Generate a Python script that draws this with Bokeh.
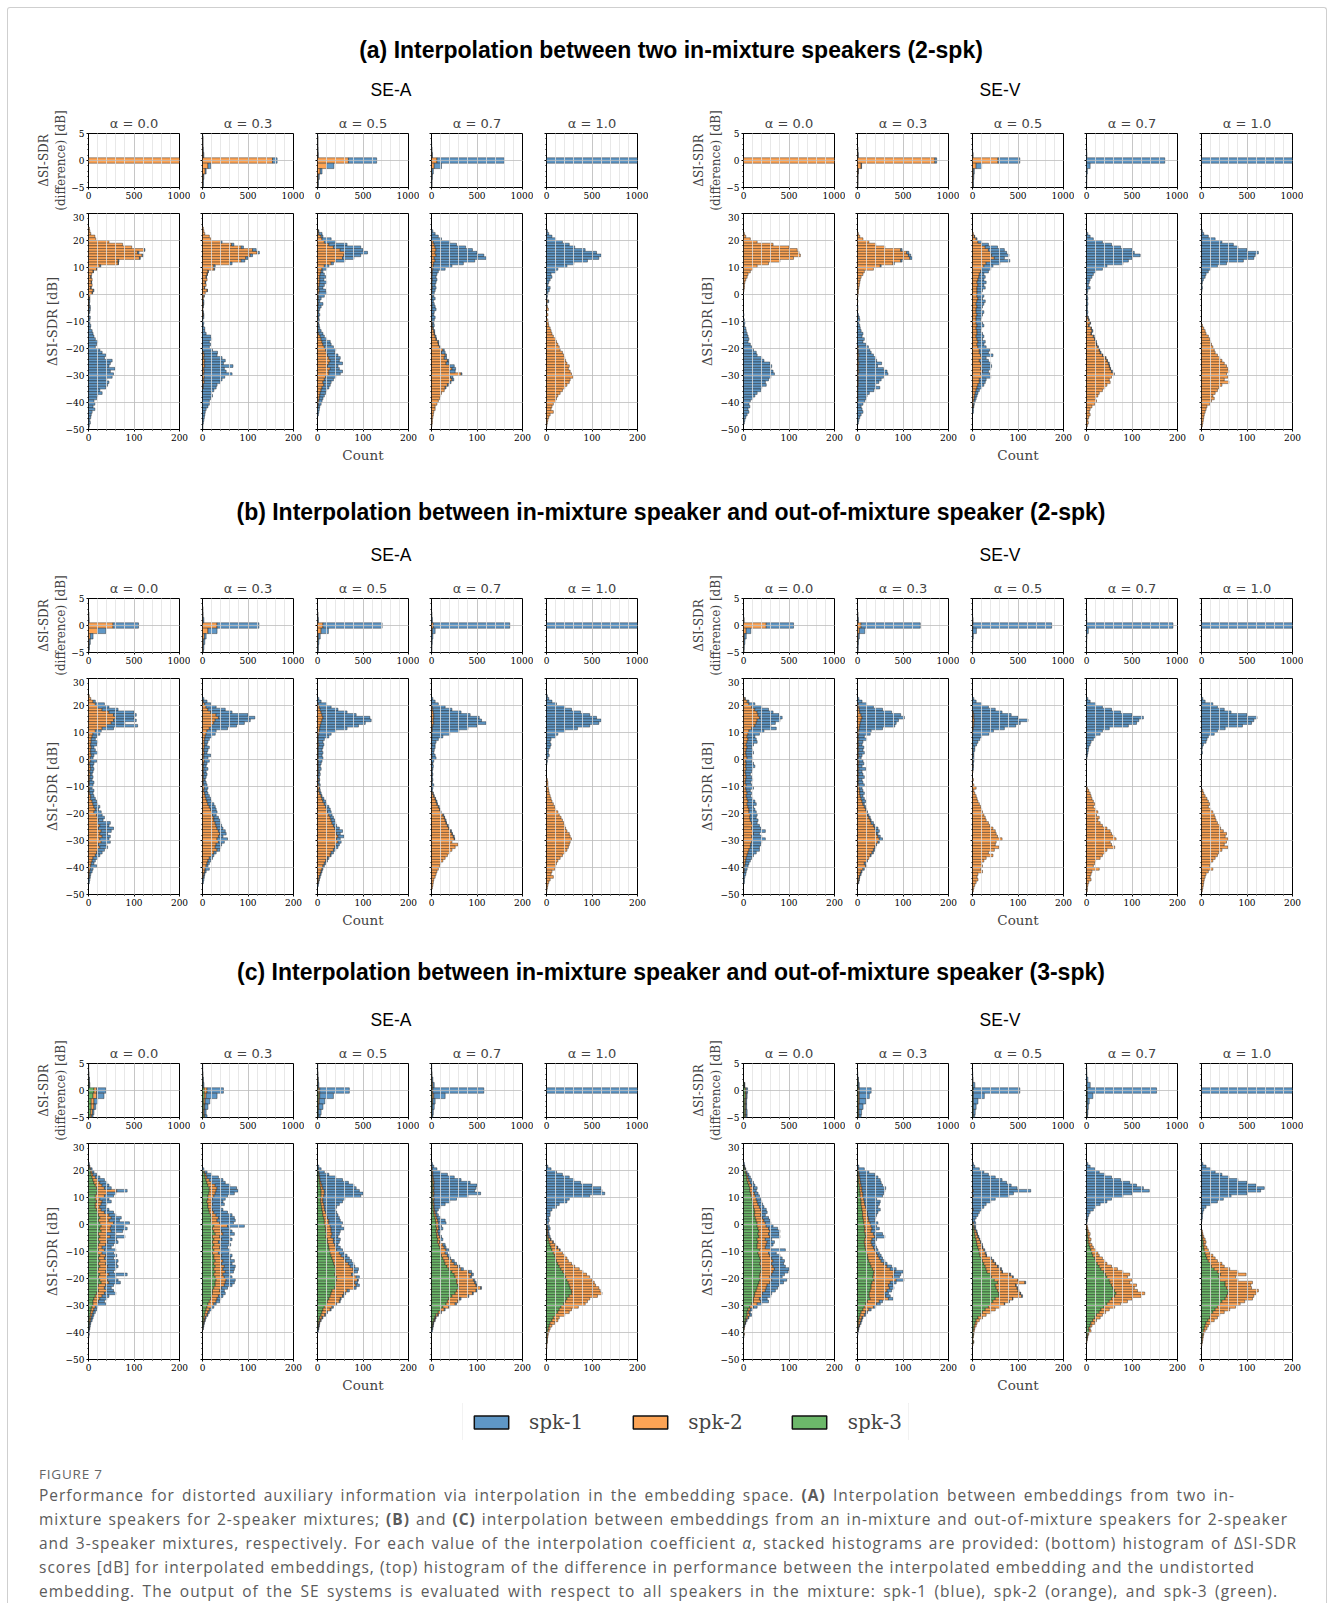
from bokeh.plotting import figure
from bokeh.layouts import row, column
from bokeh.models import (Div, Spacer, FixedTicker, CustomJSTickFormatter, Legend,
                          LegendItem, ColumnDataSource, Range1d)
from bokeh.embed import file_html
from bokeh.resources import INLINE

# ============================ DATA ============================
# bottom histograms: 1 dB bins, (first_bin_lower_edge, counts going downwards 1 dB each)
# top histograms: 1 dB bins centred on 5, 4, ..., -5
BOT_EDGES = list(range(29, -51, -1))
TOP_BINS = [5, 4, 3, 2, 1, 0, -1, -2, -3, -4, -5]
ALPHAS = ["0.0", "0.3", "0.5", "0.7", "1.0"]
SPEAKERS = ["spk-1", "spk-2", "spk-3"]
BOTTOM_YTICKS = [-50, -40, -30, -20, -10, 0, 10, 20, 30]
TOP_YTICKS = [-5, 0, 5]
BOTTOM_XTICKS = [0, 100, 200]
TOP_XTICKS = [0, 500, 1000]
SECTION_TITLES = {
    "a": "(a) Interpolation between two in-mixture speakers (2-spk)",
    "b": "(b) Interpolation between in-mixture speaker and out-of-mixture speaker (2-spk)",
    "c": "(c) Interpolation between in-mixture speaker and out-of-mixture speaker (3-spk)",
}
SYSTEMS = {"A": "SE-A", "V": "SE-V"}

# ---- (a) SE-A ----
aA0_spk2 = (24, [2,3,5,14,16, 45,75,95,122,108,118,112,65,65,25, 18,10,7,5,8,6,8,5,10,8, 3,2,1,1,2,1,1,0,1])
aA0_spk1 = (16, [2,3,3,2,2,1,2, 1,1,0,1,0,1,0,1,2,1, 0,1,2,1,2,3,2,1,3,3, 3,5,4,8,10,12,15,20,18,15, 25,30,38,35,52,48,45,58,48,55, 52,40,45,42,38,25,30,20,18,12, 14,10,14,8,6,5,3,4,2,1])
aA0_top_spk2 = [0,0,0,0,0,1000,0,0,0,0,0]
aA0_top_spk1 = [0,0,0,0,0,0,0,0,0,0,0]
aA1_spk2 = (24, [2,3,5,15,18, 40,64,85,110,120,105,95,85,60,25, 25,12,10,8,10,6,8,4,10,6, 3,2,1,2,1,1,1,2,1,0, 0,0,0,0,0,0,0,0,0,0, 0,3,4,3,5,4,5,3,4,3, 4,3,4,2,2])
aA1_spk1 = (19, [3,5,5,8,5,5,5,8,5,3, 2,1,1,1,0,1,0,1,1,0, 1,0,2,1,1,0,1,1,2,1, 3,2,5,5,8,18,20,15,18,15, 22,30,28,40,45,42,62,45,48,62, 45,40,35,30,28,25,20,22,18,15, 15,12,8,6,5,4,3,2,1,1])
aA1_top_spk2 = [0,3,3,5,10,770,60,30,10,5,4]
aA1_top_spk1 = [2,2,2,3,5,50,30,10,5,5,4]
aA2_spk2 = (23, [2,3,8,10, 15,25,35,50,60,58,55,40,30,15, 10,8,6,5,5,5,4,3,4,3, 2,2,1,2,1,1,1,1,1,1, 1,1,1,1,3,6,8,10,12,15, 18,20,22,25,28,25,22,28,25,25, 18,15,12,14,10,8,6,5,4,3, 2,1])
aA2_spk1 = (23, [1,7,4,20, 25,40,60,50,50,37,25,20,5,10, 10,4,9,13,9,15,11,9,14,17, 13,6,4,10,7,4,2,4,2,3, 2,3,4,7,9,9,12,18,18,20, 22,18,23,25,20,30,23,20,30,25, 22,20,18,14,15,12,12,10,8,7, 6,4,4,3,2])
aA2_top_spk2 = [0,2,2,3,5,340,100,30,10,5,4]
aA2_top_spk1 = [2,2,2,3,3,310,80,20,10,5,4]
aA3_spk2 = (19, [4,6,8,10,8,10,6,8,5,4, 3,2,2,1,2,1,1,2,1,1, 1,1,0,1,1,1,0,1,0,1, 2,2,3,5,6,8,10,14,15,18, 25,22,30,28,35,32,40,45,40,65, 42,45,40,35,30,28,22,20,18,15, 12,8,8,5,4,3,2,2,1,0])
aA3_spk1 = (23, [3,8,15,22, 36,49,67,80,92,105,114,87,65,41, 27,13,10,9,10,9,7,8,7,5, 4,7,4,5,7,9,6,4,8,5, 3,4,1,2,1,2,1,2,1,2, 3,8,3,5,3,6,10,8,12,2, 5,4,3,2,2])
aA3_top_spk2 = [0,0,0,2,5,60,30,5,3,2,2]
aA3_top_spk1 = [0,0,2,3,5,740,80,15,7,4,3]
aA4_spk1 = (23, [2,5,12,20, 35,50,62,85,110,120,115,90,60,45, 25,20,10,12,8,5,3,8,6,3, 2,1,2,1])
aA4_spk2 = (-3, [3,0,2,4,0,3,0,3, 4,5,8,10,12,15,20,22,25,28, 30,35,38,40,42,45,50,48,52,55, 58,52,50,45,40,35,30,25,22,20, 15,12,10,15,8,5,3,2,1])
aA4_top_spk1 = [0,0,0,0,0,1000,0,0,0,0,0]
aA4_top_spk2 = [0,0,0,0,0,0,0,0,0,0,0]

# ---- (a) SE-V ----
aV0_spk2 = (22, [2,5,15, 30,65,100,118,122,125,110,80,55,30, 20,15,10,8,5,3,2,2,1])
aV0_spk1 = (-8, [1,0,2, 3,2,5,6,8,10,12,10,15,18, 22,28,30,40,45,58,62,60,65,68, 60,55,48,50,40,38,30,25,20,15, 12,14,10,12,8,5,3,2])
aV0_top_spk2 = [0,0,0,0,0,1000,0,0,0,0,0]
aV0_top_spk1 = [0,0,0,0,0,0,0,0,0,0,0]
aV1_spk2 = (22, [2,5,12, 25,40,60,95,108,112,115,95,78,50, 35,15,12,8,6,5,4,3,2,2, 1,0,1,0,0,1,0,0,1,0, 0,0,0,0,0,0,0,0,0,2, 2,2,3,2,2,3,2,2,3,2, 2,2,2,2,1,1,1,1,1,1])
aV1_spk1 = (16, [3,5,5,5,3,3,2, 0,0,0,0,0,0,0,0,0,0, 0,0,0,0,1,0,0,2,3,5, 3,5,6,8,12,10,15,12,18,22, 25,28,32,38,40,50,42,55,62,65, 55,50,45,38,48,35,25,20,18,15, 12,8,10,12,8,5,3,2])
aV1_top_spk2 = [0,0,0,2,5,850,40,8,4,3,2]
aV1_top_spk1 = [0,0,0,1,3,20,5,2,1,2,1]
aV2_spk2 = (22, [2,4,8, 12,20,28,35,40,42,48,40,30,25, 20,18,15,14,12,10,12,10,10,10, 10,12,10,8,10,8,8,10,8,8, 8,10,8,10,10,8,10,12,10,12, 15,15,18,20,15,18,20,18,22,18, 20,15,15,12,10,8,6,5,4,3, 2,2])
aV2_spk1 = (22, [0,1,2, 8,15,27,35,35,38,22,42,30,20, 20,17,10,14,13,20,13,18,12,10, 15,10,18,17,12,12,17,12,12,10, 14,15,12,8,12,17,12,16,15,18, 23,20,27,10,20,22,22,22,13,20, 20,15,13,13,10,7,6,5,4,3, 2,1,2,2])
aV2_top_spk2 = [0,0,0,0,3,280,40,10,8,5,5]
aV2_top_spk1 = [0,0,0,1,2,240,60,10,7,5,5]
aV3_spk1 = (22, [3,8,15, 35,55,75,100,105,118,100,92,80,45, 35,20,15,12,8,6,4,8,3,2, 2,3,2,3,2,2,3,2,1,1, 1,1,1,2,1,2,1,2,1,1, 1,2,1,1,1,2,1,1,2,1])
aV3_spk2 = (-9, [3,5, 8,5,10,12,10,15,18,20,22,25, 28,30,35,42,45,48,50,52,55,60, 55,50,52,45,40,35,28,25,20,22, 18,12,8,6,8,5,3,4,2])
aV3_top_spk1 = [0,0,0,2,5,860,40,10,5,3,2]
aV3_top_spk2 = [0,0,0,0,0,0,0,0,0,0,0]
aV4_spk1 = (23, [2,5,15,30, 45,70,80,100,125,118,115,92,55,35, 20,15,10,8,4,2,1,2,1])
aV4_spk2 = (-12, [2,5,8,10,15,18,20,22,25, 28,30,35,40,45,50,55,58,60,55, 58,50,60,45,38,35,30,25,28,22, 18,12,10,8,6,5,4,3,2])
aV4_top_spk1 = [0,0,0,0,0,1000,0,0,0,0,0]
aV4_top_spk2 = [0,0,0,0,0,0,0,0,0,0,0]

# ---- (b) SE-A ----
bA0_spk2 = (23, [2,5,10,15, 20,30,45,55,60,55,50,40,30,15, 10,8,6,6,5,6,5,5,6,4, 5,3,4,5,3,4,3,3,2,2, 3,2,3,5,5,8,10,12,15,12, 18,20,22,20,25,22,28,25,30,25, 28,22,25,20,18,15,10,8,6,5, 4,3,2,2])
bA0_spk1 = (23, [0,0,5,20, 25,35,55,50,40,50,30,68,25,13, 15,10,9,14,13,6,10,15,6,6, 13,9,6,7,7,4,7,5,10,8, 5,10,7,7,10,10,10,13,7,16, 12,15,10,28,20,33,22,17,18,20, 20,18,17,15,12,10,10,7,6,13, 6,5,3,2,3,2])
bA0_top_spk2 = [0,0,0,2,3,270,100,20,8,4,2]
bA0_top_spk1 = [0,0,1,1,2,280,90,30,12,6,3]
bA1_spk2 = (21, [2,5, 8,12,18,30,35,28,25,20,15,10, 8,6,5,4,5,4,3,4,3,3, 4,3,2,3,2,3,2,3,2,3, 4,3,5,6,8,10,12,15,18,20, 22,25,25,28,30,32,35,38,35,32, 35,30,28,32,25,20,15,12,10,8, 6,5,3,2])
bA1_spk1 = (22, [3,8,13, 22,38,47,70,80,77,67,55,40,20, 20,14,10,8,5,11,9,6,15,9, 11,7,6,9,6,7,6,3,6,7, 8,7,7,9,10,10,13,13,12,12, 8,10,13,12,12,13,15,14,10,23, 13,12,12,6,5,5,7,6,5,4, 9,3,2,2,3,2])
bA1_top_spk2 = [0,0,2,3,5,160,60,20,10,6,4]
bA1_top_spk1 = [0,0,1,2,10,460,100,20,15,9,6]
bA2_spk2 = (20, [2, 4,6,8,10,12,10,8,6,5,4, 3,2,2,2,3,2,2,2,2,2, 2,2,2,2,2,2,1,3,1,3, 4,3,5,8,10,12,15,18,20,22, 25,28,30,32,35,38,40,42,45,42, 45,40,38,35,30,28,22,18,15,12, 10,8,6,4,3,2])
bA2_spk1 = (22, [3,8,18, 26,39,57,75,103,108,97,84,60,36, 27,23,13,10,11,10,8,10,8,10, 8,6,4,6,3,4,3,2,3,3, 1,3,3,2,4,6,5,7,8,8, 7,7,8,8,7,10,15,8,13,8, 7,8,7,5,5,2,3,4,3,3, 2,2,2,2,1,1,2])
bA2_top_spk2 = [0,0,0,2,3,60,40,10,5,3,2]
bA2_top_spk1 = [0,0,1,2,7,650,80,20,10,7,6]
bA3_spk1 = (22, [3,8,15, 28,42,61,80,100,106,115,97,78,58, 39,24,14,10,7,8,5,5,7,9, 5,2,4,2,2,2,2,2,2,4, 3,2,1,1,1,2,1,2,1,1, 2,1,2,1,2,1,2,1,2,1])
bA3_spk2 = (19, [2,3,4,5,5,4,5,3,2,2, 1,1,1,0,1,0,1,0,1,1, 0,1,0,1,0,1,0,1,0,1, 0,0,3,5,8,10,12,15,18,20, 25,28,30,32,35,38,42,45,48,50, 45,58,52,45,40,35,30,25,20,18, 15,12,10,8,5,4,3,2])
bA3_top_spk2 = [0,0,0,1,2,20,10,3,2,1,1]
bA3_top_spk1 = [0,0,1,3,8,840,30,12,6,4,2]
bA4_spk1 = (23, [2,5,12,22, 40,55,75,95,110,120,115,95,68,40, 25,20,10,8,10,8,5,4,6,3, 2,1])
bA4_spk2 = (-8, [2,3,3, 4,5,6,8,10,12,15,18,20,25, 28,32,35,38,40,42,45,50,52,55, 52,50,48,45,40,35,30,25,22,20, 18,12,10,15,8,5,3,2,1])
bA4_top_spk1 = [0,0,0,0,0,1000,0,0,0,0,0]
bA4_top_spk2 = [0,0,0,0,0,0,0,0,0,0,0]

# ---- (b) SE-V ----
bV0_spk2 = (22, [3,8,12, 18,25,30,32,35,30,28,25,18,12, 10,8,10,8,6,8,6,5,6,8, 5,6,5,6,4,5,6,5,4,6, 5,6,8,6,8,10,8,10,12,12, 15,14,15,18,20,18,20,22,18,20, 18,16,15,12,10,8,6,5,4,3, 2,2])
bV0_spk1 = (22, [1,4,13, 22,30,35,46,50,50,42,35,54,33, 25,17,18,22,16,10,14,17,12,12, 13,16,20,14,14,10,12,15,12,12, 17,9,10,10,12,15,20,12,13,16, 15,14,17,12,15,20,28,13,22,28, 22,22,20,23,18,14,12,10,8,7, 6,4,5,3,2,2])
bV0_top_spk2 = [0,0,0,0,3,250,30,10,5,3,2]
bV0_top_spk1 = [0,0,0,1,2,300,50,20,10,5,3]
bV1_spk2 = (20, [2, 3,4,5,8,10,8,6,5,4,3, 3,2,3,2,3,2,3,2,3,2, 3,3,2,3,2,3,2,3,2,3, 4,5,5,6,8,10,12,15,18,20, 22,25,28,30,35,38,40,42,45,48, 45,40,38,35,32,28,25,20,15,18, 12,8,6,4,3,2])
bV1_spk1 = (22, [3,10,18, 32,51,70,87,93,82,79,77,51,27, 25,13,17,10,7,12,9,13,7,6, 9,11,8,15,8,9,13,7,10,12, 6,7,10,6,7,8,3,3,2,2, 3,3,2,5,3,7,8,3,5,7, 3,2,2,3,3,2,0,2,3,2, 3,2,2,1,1,1])
bV1_top_spk2 = [0,0,0,2,3,40,20,8,4,2,2]
bV1_top_spk1 = [0,0,1,2,7,650,60,12,6,6,3]
bV2_spk1 = (22, [3,8,20, 35,50,63,82,97,118,102,92,68,45, 35,20,15,12,8,5,4,3,2,3, 2,2,1,2])
bV2_spk2 = (17, [2,3,3,4,3,3,2,1, 1,0,1,0,1,0,1,0,1,0, 1,0,1,0,1,0,0,2,0,3, 8,3,5,8,10,12,15,18,20,22, 25,28,30,35,38,45,50,52,55,65, 52,50,58,48,35,45,30,25,20,22, 18,22,12,10,12,8,5,3,2])
bV2_top_spk2 = [0,0,0,0,2,5,3,1,0,0,0]
bV2_top_spk1 = [0,0,0,1,3,865,40,8,3,2,1]
bV3_spk1 = (22, [3,8,20, 35,55,75,100,125,115,110,92,50,35, 30,20,15,10,8,5,4,3,2,1])
bV3_spk2 = (-11, [2,5,8,10,12,15,18,15,20,25, 22,28,25,30,35,45,52,55,60,65, 52,55,62,45,40,35,30,20,18,15, 28,12,10,8,10,5,3,2,2])
bV3_top_spk1 = [0,0,0,1,3,950,20,5,2,1,1]
bV3_top_spk2 = [0,0,0,0,0,0,0,0,0,0,0]
bV4_spk1 = (22, [3,8,25, 35,50,65,100,122,115,110,90,52,35, 28,15,12,10,4,2,1,2])
bV4_spk2 = (-12, [3,5,8,12,15,18,15,20,25, 28,30,32,35,40,42,48,55,52,58, 55,50,58,45,38,35,30,25,20,18, 25,15,10,8,6,5,4,3,2])
bV4_top_spk1 = [0,0,0,0,0,1000,0,0,0,0,0]
bV4_top_spk2 = [0,0,0,0,0,0,0,0,0,0,0]

# ---- (c) SE-A ----
cA0_spk3 = (22, [0,0,3, 5,6,8,10,12,15,18,20,18,15, 15,18,15,15,18,20,22,25,22,25, 28,25,28,22,25,22,25,22,20,22, 20,25,22,25,22,25,22,20,25,22, 25,28,22,20,22,18,15,12,10,10, 8,6,5,4,3,2,2,1,1])
cA0_spk2 = (22, [0,2,2, 3,4,7,10,13,15,17,42,22,20, 10,12,13,10,10,15,23,25,23,30, 22,23,22,18,23,18,17,16,10,13, 10,13,13,15,16,17,18,18,20,18, 17,17,16,15,18,17,15,13,12,10, 7,6,5,4,3,3,1,1,1])
cA0_spk1 = (22, [2,1,3, 4,8,10,15,15,15,15,23,20,20, 20,20,12,13,17,20,15,22,23,35, 30,37,25,20,32,22,23,17,20,25, 25,24,20,25,24,23,20,17,40,20, 23,25,17,15,15,25,15,15,13,18, 5,6,5,4,4,3,2,2,1,2, 2,1])
cA0_top_spk3 = [0,0,0,3,5,60,50,30,30,25,20]
cA0_top_spk2 = [0,0,2,2,5,30,40,30,30,20,15]
cA0_top_spk1 = [3,3,3,5,5,100,80,40,20,15,15]
cA1_spk3 = (19, [3,5,6,8,10,12,15,15,14,12, 12,10,12,12,14,15,18,20,18,20, 25,22,25,28,22,25,22,25,22,25, 22,25,25,28,25,28,25,28,25,28, 30,28,28,25,22,22,20,18,15,12, 10,8,6,5,3,3,2,1])
cA1_spk2 = (19, [2,3,4,7,10,16,17,15,14,13, 10,10,10,8,8,10,12,15,14,18, 30,18,17,17,16,17,13,15,16,15, 13,17,15,17,17,20,20,22,20,20, 22,22,20,17,16,18,15,14,15,13, 10,7,6,5,3,2,1,1,1])
cA1_spk1 = (20, [3, 5,12,25,30,30,32,43,48,42,30, 28,25,26,20,23,30,35,35,40,30, 37,20,23,25,22,23,23,22,17,20, 23,23,22,25,23,24,25,18,15,17, 20,20,17,13,10,10,10,8,8,5, 5,5,3,2,2,1,1,1,1])
cA1_top_spk3 = [0,0,0,2,5,20,20,15,15,10,15]
cA1_top_spk2 = [0,0,2,2,3,30,20,15,10,10,10]
cA1_top_spk1 = [2,3,3,5,8,180,120,50,35,20,25]
cA2_spk3 = (20, [1, 2,3,3,4,5,6,7,8,8,8, 7,7,8,9,10,11,12,14,15,15, 17,18,18,20,18,22,22,24,25,26, 28,30,32,34,36,38,40,40,38,42, 42,40,40,38,32,30,28,25,22,20, 15,12,10,8,5,4,2,2,1])
cA2_spk2 = (20, [1, 1,1,2,2,3,4,5,7,7,6, 5,5,6,6,6,7,8,8,10,10, 11,12,12,12,12,13,13,14,15,16, 20,22,26,28,32,34,38,40,37,43, 46,42,45,42,33,28,27,25,26,20, 17,16,10,8,5,3,2,1,1])
cA2_spk1 = (21, [3,6, 12,21,35,49,60,70,73,77,85,81, 48,43,34,27,24,24,25,26,25,30, 24,28,20,16,15,15,13,7,10,13, 10,13,12,13,12,10,12,8,5,7, 2,6,7,5,5,4,3,2,2,2, 3,2,2,2,2,1,1,1,1,2])
cA2_top_spk3 = [0,0,0,2,3,10,15,10,8,5,5]
cA2_top_spk2 = [0,0,2,3,4,15,10,10,7,5,5]
cA2_top_spk1 = [3,3,3,3,8,325,150,60,45,30,20]
cA3_spk3 = (19, [1,1,2,2,3,3,3,3,3,3, 3,3,3,4,4,5,6,8,9,10, 10,11,10,11,12,14,13,16,18,20, 20,22,25,28,30,34,38,45,50,52, 55,55,58,60,55,52,45,38,35,32, 25,20,15,10,7,5,3,2,2])
cA3_spk2 = (21, [1,2, 2,2,2,3,3,2,3,2,3,2, 3,2,3,2,3,3,4,4,5,5, 5,5,4,4,6,6,5,9,10,12, 10,13,13,17,20,24,27,37,38,33, 37,40,40,48,43,38,35,24,23,20, 13,8,5,4,2,2,1,1])
cA3_spk1 = (22, [2,4,10, 17,32,46,60,79,95,92,90,102,75, 49,35,24,14,8,4,5,8,16,17, 7,9,6,3,4,5,2,5,4,6, 5,5,4,5,5,4,5,6,4,3, 3,3,2,2,2,2,2,3,2,3, 2,2,2,1,1,1,1,1,1,2])
cA3_top_spk3 = [0,0,0,2,5,5,10,8,5,4,3]
cA3_top_spk2 = [0,0,2,5,10,10,15,7,5,4,3]
cA3_top_spk1 = [2,3,3,8,15,560,125,25,20,12,9]
cA4_spk1 = (21, [3,10, 22,35,50,60,75,100,120,122,128,95, 50,45,28,22,12,8,8,5,6,4, 4,5,2,3,3,1,1,1,1,1])
cA4_spk3 = (-1, [1,1,1,1,2,4,6,8,10,12, 15,18,20,22,25,28,32,36,40,42, 45,48,50,52,55,55,50,45,42,38, 32,28,25,20,15,12,8,6,4,3, 2,1,1,1])
cA4_spk2 = (-1, [1,2,2,2,3,5,8,11,14,17, 20,22,25,26,30,34,40,44,48,53, 55,57,58,63,63,67,62,50,48,47, 38,27,25,20,13,13,10,6,4,3, 2,2,1,1,1,1])
cA4_top_spk1 = [0,0,0,0,0,1000,0,0,0,0,0]
cA4_top_spk2 = [0,0,0,0,0,0,0,0,0,0,0]
cA4_top_spk3 = [0,0,0,0,0,0,0,0,0,0,0]

# ---- (c) SE-V ----
cV0_spk3 = (22, [0,1,3, 4,6,7,8,10,12,14,14,16,17, 18,20,21,22,24,25,24,26,28,30, 30,32,34,32,34,30,32,30,30,35, 32,34,36,38,36,38,40,38,36,35, 36,34,32,30,28,25,24,22,22,18, 14,10,8,8,6,4,3,1,1,1, 1])
cV0_spk2 = (22, [0,1,1, 2,2,3,4,5,6,8,6,8,9, 10,10,11,13,14,15,14,16,17,18, 20,23,24,23,24,18,20,20,18,25, 23,24,26,27,26,27,28,27,26,23, 26,24,20,20,20,17,16,13,16,12, 8,5,4,6,4,2,1,1,1,0, 1])
cV0_spk1 = (22, [2,1,1, 2,4,5,6,7,7,8,8,8,9, 10,10,10,10,12,12,10,13,13,12, 15,20,22,23,22,14,16,15,12,32, 17,22,23,25,26,27,32,33,28,27, 33,30,26,25,22,20,20,17,17,10, 8,5,3,4,2,2,1,1,0,0, 0,1])
cV0_top_spk3 = [0,0,0,0,10,20,20,15,15,15,15]
cV0_top_spk2 = [0,0,0,0,2,10,10,10,10,10,10]
cV0_top_spk1 = [0,0,0,0,2,15,10,10,10,15,15]
cV1_spk3 = (19, [1,2,2,3,3,4,5,5,6,6, 7,8,8,9,10,11,11,12,13,14, 15,16,15,17,18,16,15,16,17,18, 20,22,23,25,28,30,33,36,35,34, 36,32,30,30,28,26,26,28,22,18, 15,12,8,6,4,3,2,2,1])
cV1_spk2 = (20, [2, 2,2,3,3,4,4,5,5,6,6, 7,7,8,9,10,11,11,12,12,14, 15,16,15,18,20,16,15,16,18,20, 22,23,25,27,30,35,39,46,45,44, 49,40,38,40,37,34,36,40,26,24, 20,13,10,9,6,5,4,2,1,1])
cV1_spk1 = (21, [3,13, 22,34,40,44,45,47,52,50,46,43, 28,35,32,27,30,23,20,16,13,17, 12,16,10,20,22,10,8,8,7,7, 6,7,7,8,7,10,13,18,15,14, 17,13,10,10,10,8,10,10,7,8, 5,5,4,3,2,2,2,1,1,1, 1])
cV1_top_spk3 = [0,0,0,3,8,10,10,10,8,8,8]
cV1_top_spk2 = [0,0,0,2,2,10,10,10,8,7,7]
cV1_top_spk1 = [0,0,3,5,10,130,110,70,45,30,25]
cV2_spk1 = (22, [2,5,15, 25,35,50,65,75,85,98,126,90,78, 50,40,30,25,18,15,12,8,5,4, 3,2,2,1,2,1,1,2,1,2, 2,1,2,2,1,2,2,1,2,2, 1,2,1,1,2,1,2,1,1,1])
cV2_spk2 = (12, [2,0,2, 0,0,0,0,2,0,0,0,0, 2, 2,2,4,5,6,7,9,10,10,11, 13,14,20,23,25,27,32,33,42,46, 52,60,45,46,45,47,50,38,35,30, 25,22,18,12,10,7,4,4,2,2, 1,1,1,1,1])
cV2_spk3 = (0, [1, 2,3,4,5,6,8,9,10,12,14, 15,16,20,22,25,28,30,32,40,42, 48,55,50,52,55,58,58,50,45,40, 35,28,22,18,12,8,6,4,3,2, 2,1,0,2,0])
cV2_top_spk3 = [0,0,0,0,3,5,5,5,5,5,5]
cV2_top_spk2 = [0,0,0,2,3,5,5,5,5,5,5]
cV2_top_spk1 = [0,0,3,3,20,510,120,50,30,20,15]
cV3_spk1 = (22, [3,8,18, 28,40,55,75,95,110,125,138,100,80, 55,45,30,20,15,8,5,3,2,1])
cV3_spk3 = (-1, [0,1,2,3,3,4,4,6,8,10, 12,14,18,20,24,28,32,38,42,45, 50,52,55,58,62,65,62,55,50,45, 38,32,28,22,18,14,10,8,5,6, 3,2,1,0])
cV3_spk2 = (-1, [2,2,3,5,3,6,4,6,7,10, 13,14,17,20,21,27,36,42,53,45, 50,43,55,47,50,63,58,45,40,30, 24,18,14,13,12,8,8,4,3,4, 2,1,1,1])
cV3_top_spk3 = [0,0,0,0,3,5,5,5,3,3,3]
cV3_top_spk2 = [0,0,0,0,3,5,5,5,3,3,2]
cV3_top_spk1 = [0,3,5,15,35,760,60,20,14,9,5]
cV4_spk1 = (22, [3,10,20, 30,45,60,80,100,120,138,130,100,65, 48,35,20,10,5,3,2,2,1,0])
cV4_spk3 = (-3, [0,1,2,3,4,4,5,6, 8,10,12,15,20,22,28,35,42,38, 40,52,52,55,60,58,55,52,45,40, 35,30,25,20,18,14,10,8,6,4, 3,2,1,1,0])
cV4_spk2 = (-3, [2,2,3,5,6,4,7,9, 10,15,18,20,25,28,34,45,56,37, 40,60,56,55,65,62,60,60,50,45, 40,32,25,20,17,14,10,7,6,4, 2,2,2,1,1])
cV4_top_spk1 = [0,0,0,0,0,1000,0,0,0,0,0]
cV4_top_spk2 = [0,0,0,0,0,0,0,0,0,0,0]
cV4_top_spk3 = [0,0,0,0,0,0,0,0,0,0,0]

CAPTION_LINES = [
    'Performance for distorted auxiliary information via interpolation in the embedding space. <b>(A)</b> Interpolation between embeddings from two in-',
    'mixture speakers for 2-speaker mixtures; <b>(B)</b> and <b>(C)</b> interpolation between embeddings from an in-mixture and out-of-mixture speakers for 2-speaker',
    'and 3-speaker mixtures, respectively. For each value of the interpolation coefficient <i>&alpha;</i>, stacked histograms are provided: (bottom) histogram of &Delta;SI-SDR',
    'scores [dB] for interpolated embeddings, (top) histogram of the difference in performance between the interpolated embedding and the undistorted',
    'embedding. The output of the SE systems is evaluated with respect to all speakers in the mixture: spk-1 (blue), spk-2 (orange), and spk-3 (green).',
]
CAPTION_WIDTHS = [1196, 1249, 1258, 1216, 1239]

# ============================ STYLE ============================
COLORS = {"spk-1": "#5f97c6", "spk-2": "#fda455", "spk-3": "#6cb86a"}
STACK_ORDER = ["spk-3", "spk-2", "spk-1"]
FW, TOP_FH, BOT_FH = 91, 54, 216
LEFT_B = [80, 12, 13, 12, 13]
RIGHT_B = 11
TICK_FONT = "DejaVu Serif"
MINUS = "\u2212"


def expand(spec):
    first, vals = spec
    d = {}
    for k, v in enumerate(vals):
        lo = first - k
        if -50 <= lo <= 29:
            d[lo] = v
    return [d.get(lo, 0) for lo in BOT_EDGES]


def stack_bars(p, centers, series, height):
    left = [0] * len(centers)
    for spk in STACK_ORDER:
        if spk not in series:
            continue
        counts = series[spk]
        right = [a + b for a, b in zip(left, counts)]
        keep = [k for k, c in enumerate(counts) if c > 0]
        if keep:
            src = ColumnDataSource(dict(y=[centers[k] for k in keep],
                                        left=[left[k] for k in keep],
                                        right=[right[k] for k in keep]))
            p.hbar(y="y", left="left", right="right", height=height, source=src,
                   fill_color=COLORS[spk], fill_alpha=1.0,
                   line_color="#1a1a1a", line_width=0.5, line_alpha=0.85)
        left = right


def style_axes(p, xticks, xminor, yticks, yminor, show_ylabels):
    p.outline_line_color = "black"
    p.outline_line_width = 1
    p.background_fill_color = "white"
    p.border_fill_color = "white"
    xt = FixedTicker(ticks=xticks, minor_ticks=xminor)
    yt = FixedTicker(ticks=yticks, minor_ticks=yminor)
    p.xaxis.ticker = xt
    p.yaxis.ticker = yt
    p.xgrid.ticker = xt
    p.ygrid.ticker = yt
    for ax in (p.xaxis[0], p.yaxis[0]):
        ax.axis_line_color = None
        ax.major_tick_in = 0
        ax.major_tick_out = 2
        ax.minor_tick_in = 0
        ax.minor_tick_out = 1
        ax.major_tick_line_color = "black"
        ax.minor_tick_line_color = "black"
        ax.major_label_text_font = TICK_FONT
        ax.major_label_text_font_size = "9px"
        ax.major_label_text_color = "black"
        ax.major_label_standoff = 2
    if show_ylabels:
        p.yaxis.major_label_overrides = {t: (MINUS + str(-t) if t < 0 else str(t)) for t in yticks}
    else:
        p.yaxis.formatter = CustomJSTickFormatter(code="return ''")
    p.xgrid.grid_line_color = "#bdbdbd"
    p.xgrid.grid_line_width = 0.8
    p.xgrid.minor_grid_line_color = "#e2e2e2"
    p.xgrid.minor_grid_line_width = 0.8
    p.ygrid.grid_line_color = "#bdbdbd"
    p.ygrid.grid_line_width = 0.8
    p.xgrid.level = "annotation"
    p.ygrid.level = "annotation"


def make_top(sec, sysk, i):
    p = figure(frame_width=FW, frame_height=TOP_FH, x_range=Range1d(0, 1000), y_range=Range1d(-5, 5),
               output_backend="svg", toolbar_location=None,
               min_border_left=LEFT_B[i], min_border_right=RIGHT_B, min_border_top=31, min_border_bottom=26,
               title="\u03b1 = " + ALPHAS[i])
    p.title.align = "center"
    p.title.text_font = "DejaVu Sans"
    p.title.text_font_size = "13px"
    p.title.text_font_style = "normal"
    p.title.standoff = 5
    series = {}
    for n, spk in enumerate(SPEAKERS):
        v = globals().get(f"{sec}{sysk}{i}_top_spk{n + 1}")
        if v is not None:
            series[spk] = v
    stack_bars(p, TOP_BINS, series, 1.0)
    style_axes(p, TOP_XTICKS, list(range(0, 1001, 100)), TOP_YTICKS, list(range(-5, 6)), i == 0)
    if i == 0:
        p.yaxis.axis_label = "\u0394SI-SDR\n(difference) [dB]"
        p.yaxis.axis_label_text_font = TICK_FONT
        p.yaxis.axis_label_text_font_size = "12px"
        p.yaxis.axis_label_text_font_style = "normal"
        p.yaxis.axis_label_standoff = 0
    return p


def make_bottom(sec, sysk, i):
    p = figure(frame_width=FW, frame_height=BOT_FH, x_range=Range1d(0, 200), y_range=Range1d(-50, 30),
               output_backend="svg", toolbar_location=None,
               min_border_left=LEFT_B[i], min_border_right=RIGHT_B, min_border_top=0, min_border_bottom=40)
    series = {}
    for n, spk in enumerate(SPEAKERS):
        v = globals().get(f"{sec}{sysk}{i}_spk{n + 1}")
        if v is not None:
            series[spk] = expand(v)
    centers = [lo + 0.5 for lo in BOT_EDGES]
    stack_bars(p, centers, series, 1.0)
    style_axes(p, BOTTOM_XTICKS, list(range(0, 201, 20)), BOTTOM_YTICKS, list(range(-50, 31, 2)), i == 0)
    if i == 0:
        p.yaxis.axis_label = "\u0394SI-SDR [dB]"
        p.yaxis.axis_label_text_font = TICK_FONT
        p.yaxis.axis_label_text_font_size = "13px"
        p.yaxis.axis_label_text_font_style = "normal"
        p.yaxis.axis_label_standoff = 3
    if i == 2:
        p.xaxis.axis_label = "Count"
        p.xaxis.axis_label_text_font = TICK_FONT
        p.xaxis.axis_label_text_font_size = "13.5px"
        p.xaxis.axis_label_text_font_style = "normal"
        p.xaxis.axis_label_standoff = 3
    return p


def group(sec, sysk):
    cols = [column(make_top(sec, sysk, i), make_bottom(sec, sysk, i), spacing=0) for i in range(5)]
    return row(cols, spacing=0)


def html_div(html, w, h, css):
    return Div(text=f'<div style="{css}">{html}</div>', width=w, height=h, margin=0)


TITLE_CSS = ("width:1000px;height:30px;line-height:30px;text-align:center;white-space:nowrap;"
             "font-family:'Liberation Sans',Arial,sans-serif;font-weight:bold;font-size:23px;color:#000;")
SE_CSS = ("width:100px;height:24px;line-height:24px;text-align:center;white-space:nowrap;"
          "font-family:'Liberation Sans',Arial,sans-serif;font-size:17.5px;color:#000;")

X0, Y0 = 8, 8   # content origin inside the bordered box
children = []
y = Y0
SECTION_T = {"a": 133, "b": 598, "c": 1063}
TITLE_C = {"a": 50, "b": 512, "c": 972}
for sec in "abc":
    T = SECTION_T[sec]
    ttop = TITLE_C[sec] - 15
    children.append(Spacer(height=ttop - y, width=10))
    children.append(row(Spacer(width=671 - 500 - X0, height=30),
                        html_div(SECTION_TITLES[sec], 1000, 30, TITLE_CSS)))
    y = ttop + 30
    setop = T - 55
    children.append(Spacer(height=setop - y, width=10))
    children.append(row(Spacer(width=391 - 50 - X0, height=24), html_div(SYSTEMS["A"], 100, 24, SE_CSS),
                        Spacer(width=509, height=24), html_div(SYSTEMS["V"], 100, 24, SE_CSS)))
    children.append(row(group(sec, "A"), Spacer(width=15, height=10), group(sec, "V"), spacing=0))
    y = T + 336

# legend
lg = figure(width=447, height=37, x_range=Range1d(0, 1), y_range=Range1d(0, 1), output_backend="svg",
            toolbar_location=None, min_border=0)
lg.axis.visible = False
lg.grid.visible = False
lg.outline_line_color = None
items = []
for spk in SPEAKERS:
    r = lg.hbar(y=[5], left=[5], right=[6], height=1, fill_color=COLORS[spk], line_color="#111111",
                line_width=1.5)
    items.append(LegendItem(label=spk, renderers=[r]))
leg = Legend(items=items, orientation="horizontal", location="center", glyph_width=43, glyph_height=16,
             label_standoff=17, spacing=45, padding=7, margin=0, label_height=20,
             label_text_font="DejaVu Serif", label_text_font_size="20px",
             border_line_color="#cccccc", border_line_width=1, background_fill_color="white")
lg.add_layout(leg, "center")
children.append(Spacer(height=1403 - y, width=10))
children.append(row(Spacer(width=462 - X0, height=37), lg))
y = 1440

line_divs = "".join(
    f'<div style="width:{w}px;height:24px;line-height:24px;overflow:hidden;text-align:justify;'
    f'text-align-last:justify;">{t}</div>'
    for t, w in zip(CAPTION_LINES, CAPTION_WIDTHS))
cap_html = ('<div style="font-family:\'Open Sans\',sans-serif;color:#5b5b5b;">'
            '<div style="font-size:13.5px;line-height:18px;letter-spacing:0.8px;color:#666;">FIGURE 7</div>'
            '<div style="font-size:15.5px;letter-spacing:1.0px;">' + line_divs + '</div></div>')
children.append(Spacer(height=1465 - y, width=10))
children.append(row(Spacer(width=39 - X0, height=138), Div(text=cap_html, width=1287, height=138, margin=0)))

root = column(children, spacing=0,
              styles={"margin": "7px 0 0 7px", "border": "1px solid #cfcfcf", "border-bottom": "none",
                      "border-radius": "3px 3px 0 0"})

html = file_html(root, INLINE, title="Figure 7")
open("out.html", "w").write(html)
